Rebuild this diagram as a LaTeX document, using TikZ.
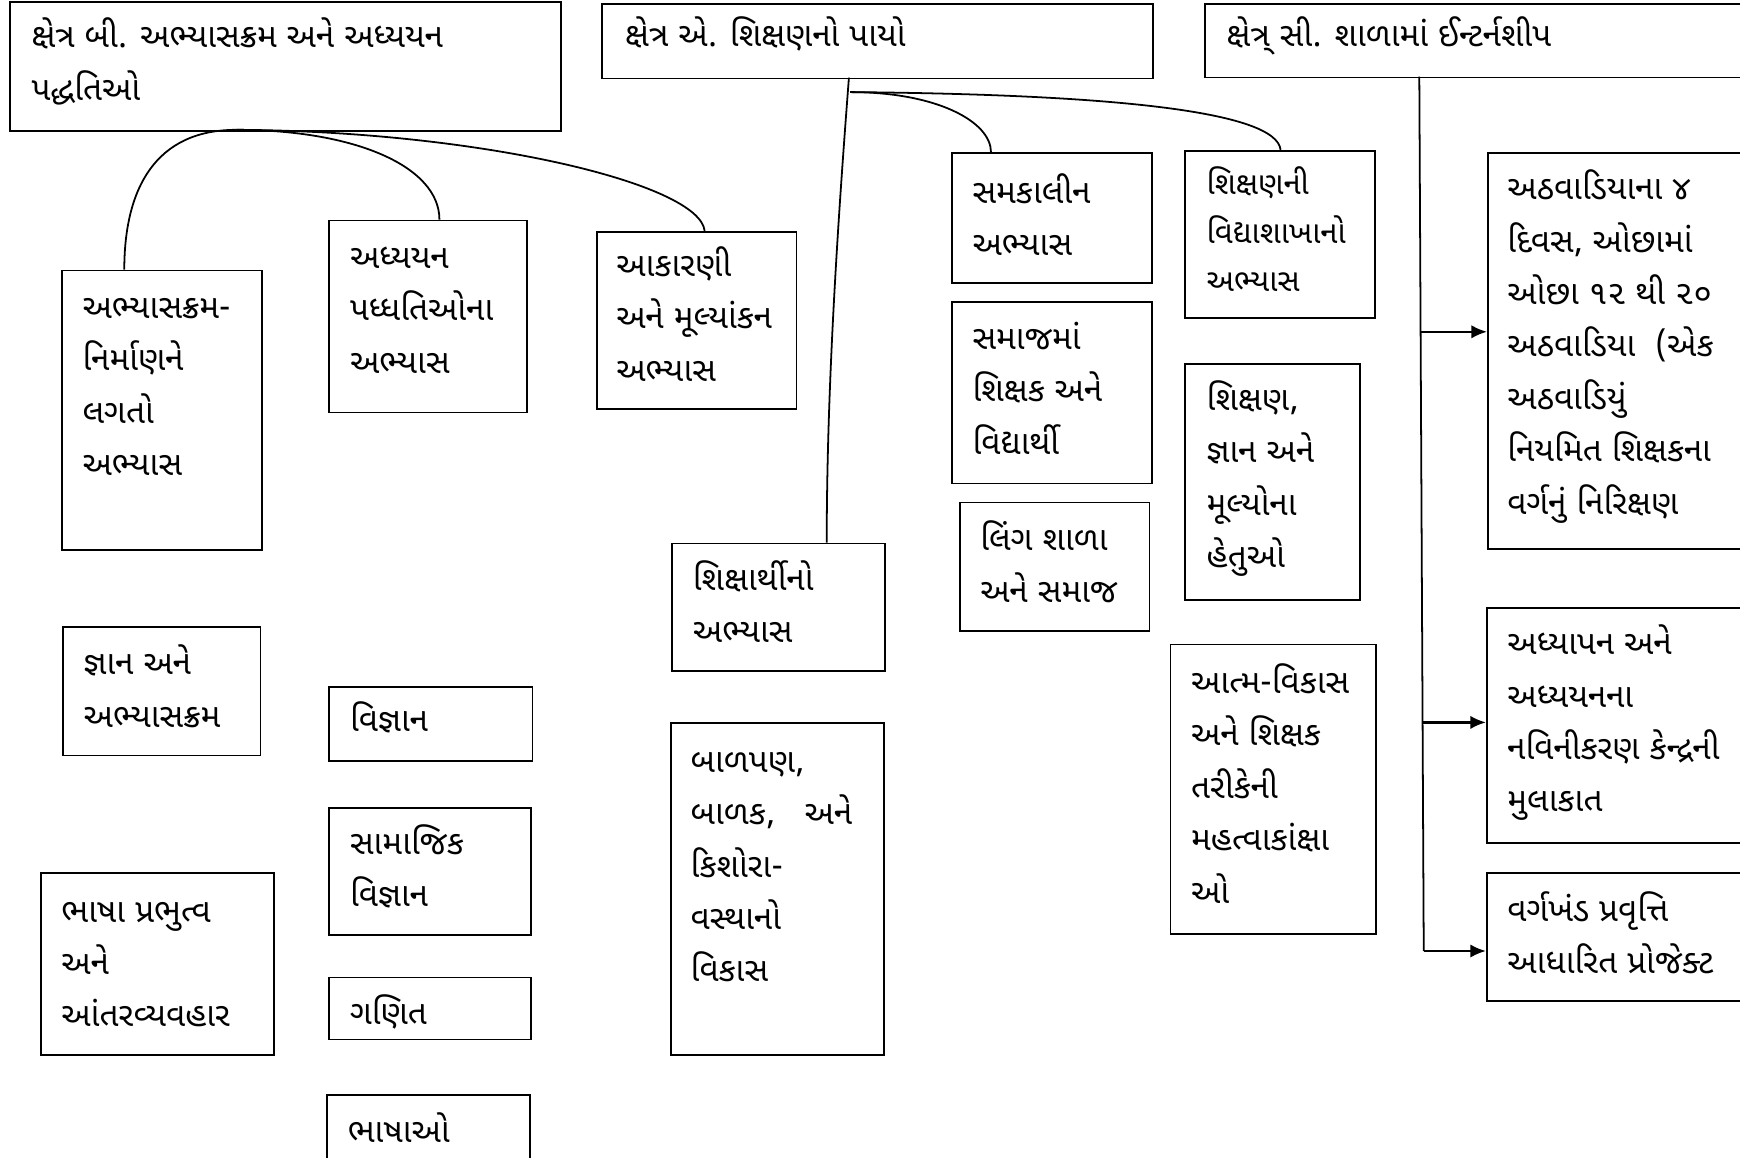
\documentclass[tikz,border=0pt]{standalone}
\usepackage{fontspec}
\newfontfamily\guj[Script=Gujarati]{Noto Sans Gujarati UI}
\usetikzlibrary{arrows.meta}
\newcommand\gtxt[1]{\begin{tabular}[t]{@{}l@{}}#1\end{tabular}}
\begin{document}
\begin{tikzpicture}[x=0.5pt,y=-0.5pt,
  boxst/.style={draw, line width=0.8pt, inner sep=0pt, anchor=north west},
  txt/.style={anchor=base west, inner sep=0pt, font=\guj\fontsize{15}{23.6}\selectfont},
  smalltxt/.style={txt, font=\guj\fontsize{14}{22}\selectfont},
  link/.style={line width=0.8pt},
  arr/.style={line width=1pt, -{Latex[length=7pt,width=6pt]}}]
\clip (0,0) rectangle (1568,1043);
\fill[white] (0,0) rectangle (1568,1043);
% box macro: name, x1, y1, x2, y2
\def\mkbox#1#2#3#4#5{\node[boxst, minimum width={(#4-#2)*0.5pt}, minimum height={(#5-#3)*0.5pt}] (#1) at (#2,#3) {};}
% headers
\mkbox{B}{8}{1}{505}{117}
\node[txt] (B-t) at (28,43) {\gtxt{ક્ષેત્ર બી. અભ્યાસક્રમ અને અધ્યયન\\પદ્ધતિઓ}};
\mkbox{A}{542}{3}{1038}{70}
\node[txt] (A-t) at (563,42) {\gtxt{ક્ષેત્ર એ. શિક્ષણનો પાયો}};
\mkbox{C}{1085}{3}{1600}{69}
\node[txt] (C-t) at (1105,42) {\gtxt{ક્ષેત્ર્ સી. શાળામાં ઈન્ટર્નશીપ}};
% column B
\mkbox{b1}{55}{243}{235}{495}
\node[txt] (b1-t) at (74,287) {\gtxt{અભ્યાસક્રમ-\\નિર્માણને\\લગતો\\અભ્યાસ}};
\mkbox{b2}{296}{198}{474}{371}
\node[txt] (b2-t) at (315,242) {\gtxt{અધ્યયન\\પધ્ધતિઓના\\અભ્યાસ}};
\mkbox{b3}{537}{208}{717}{368}
\node[txt] (b3-t) at (555,249) {\gtxt{આકારણી\\અને મૂલ્યાંકન\\અભ્યાસ}};
\mkbox{b4}{56}{564}{234}{680}
\node[txt] (b4-t) at (75,608) {\gtxt{જ્ઞાન અને\\અભ્યાસક્રમ}};
\mkbox{b5}{296}{618}{479}{685}
\node[txt] (b5-t) at (315,659) {\gtxt{વિજ્ઞાન}};
\mkbox{b6}{296}{727}{478}{842}
\node[txt] (b6-t) at (315,770) {\gtxt{સામાજિક\\વિજ્ઞાન}};
\mkbox{b7}{296}{880}{478}{936}
\node[txt] (b7-t) at (315,923) {\gtxt{ગણિત}};
\mkbox{b8}{294}{986}{477}{1070}
\node[txt] (b8-t) at (313,1030) {\gtxt{ભાષાઓ}};
\mkbox{b9}{36}{786}{246}{950}
\node[txt] (b9-t) at (55,831) {\gtxt{ભાષા પ્રભુત્વ\\અને\\આંતરવ્યવહાર}};
% column A
\mkbox{a1}{605}{489}{797}{604}
\node[txt] (a1-t) at (624,532) {\gtxt{શિક્ષાર્થીનો\\અભ્યાસ}};
\mkbox{a2}{604}{651}{796}{950}
\node[txt] (a2-t) at (622,696) {\gtxt{બાળપણ,\\બાળક,~~ અને\\કિશોરા-\\વસ્થાનો\\વિકાસ}};
\mkbox{a3}{857}{137}{1037}{254}
\node[txt] (a3-t) at (876,183) {\gtxt{સમકાલીન\\અભ્યાસ}};
\mkbox{a4}{857}{271}{1037}{435}
\node[txt] (a4-t) at (876,315) {\gtxt{સમાજમાં\\શિક્ષક અને\\વિદ્યાર્થી}};
\mkbox{a5}{864}{452}{1035}{568}
\node[txt] (a5-t) at (883,496) {\gtxt{લિંગ શાળા\\અને સમાજ}};
\mkbox{a6}{1067}{135}{1238}{286}
\node[smalltxt] (a6-t) at (1087,175) {\gtxt{શિક્ષણની\\વિદ્યાશાખાનો\\અભ્યાસ}};
\mkbox{a7}{1067}{327}{1225}{540}
\node[txt] (a7-t) at (1087,370) {\gtxt{શિક્ષણ,\\જ્ઞાન અને\\મૂલ્યોના\\હેતુઓ}};
\mkbox{a8}{1054}{580}{1239}{841}
\node[txt] (a8-t) at (1073,625) {\gtxt{આત્મ-વિકાસ\\અને શિક્ષક\\તરીકેની\\મહત્વાકાંક્ષા\\ઓ}};
% column C
\mkbox{c1}{1340}{137}{1600}{494}
\node[txt] (c1-t) at (1358,180) {\gtxt{અઠવાડિયાના ૪\\દિવસ, ઓછામાં\\ઓછા ૧૨ થી ૨૦\\અઠવાડિયા ~(એક\\અઠવાડિયું\\નિયમિત શિક્ષકના\\વર્ગનું નિરિક્ષણ}};
\mkbox{c2}{1339}{547}{1600}{759}
\node[txt] (c2-t) at (1358,590) {\gtxt{અધ્યાપન અને\\અધ્યયનના\\નવિનીકરણ કેન્દ્રની\\મુલાકાત}};
\mkbox{c3}{1339}{786}{1600}{901}
\node[txt] (c3-t) at (1358,830) {\gtxt{વર્ગખંડ પ્રવૃત્તિ\\આધારિત પ્રોજેક્ટ}};
% connectors from B
\coordinate (bo) at (213,117);
\draw[link] (bo) .. controls (140,117) and (112,170) .. ([xshift=28.5pt]b1.north west);
\draw[link] (bo) .. controls (320,117) and (396,150) .. ([xshift=50pt]b2.north west);
\draw[link] (bo) .. controls (430,118) and (630,165) .. ([xshift=49pt]b3.north west);
% connectors from A
\coordinate (ao) at (765,70);
\coordinate (ah) at (766,83);
\draw[link] (ao) .. controls (755,200) and (745,350) .. ([xshift=70pt]a1.north west);
\draw[link] (ah) .. controls (845,83) and (893,110) .. ([xshift=18pt]a3.north west);
\draw[link] (ah) .. controls (1000,85) and (1150,100) .. ([xshift=43.5pt]a6.north west);
% connectors from C
\coordinate (ct) at (1279,69);
\coordinate (j1) at (1280,299);
\coordinate (j2) at (1282,651);
\coordinate (j3) at (1283,857);
\draw[link] (ct) -- (j3);
\draw[arr] (j1) -- (j1 -| c1.west);
\draw[arr] (j2) -- (j2 -| c2.west);
\draw[arr] (j3) -- (j3 -| c3.west);
\end{tikzpicture}
\end{document}
